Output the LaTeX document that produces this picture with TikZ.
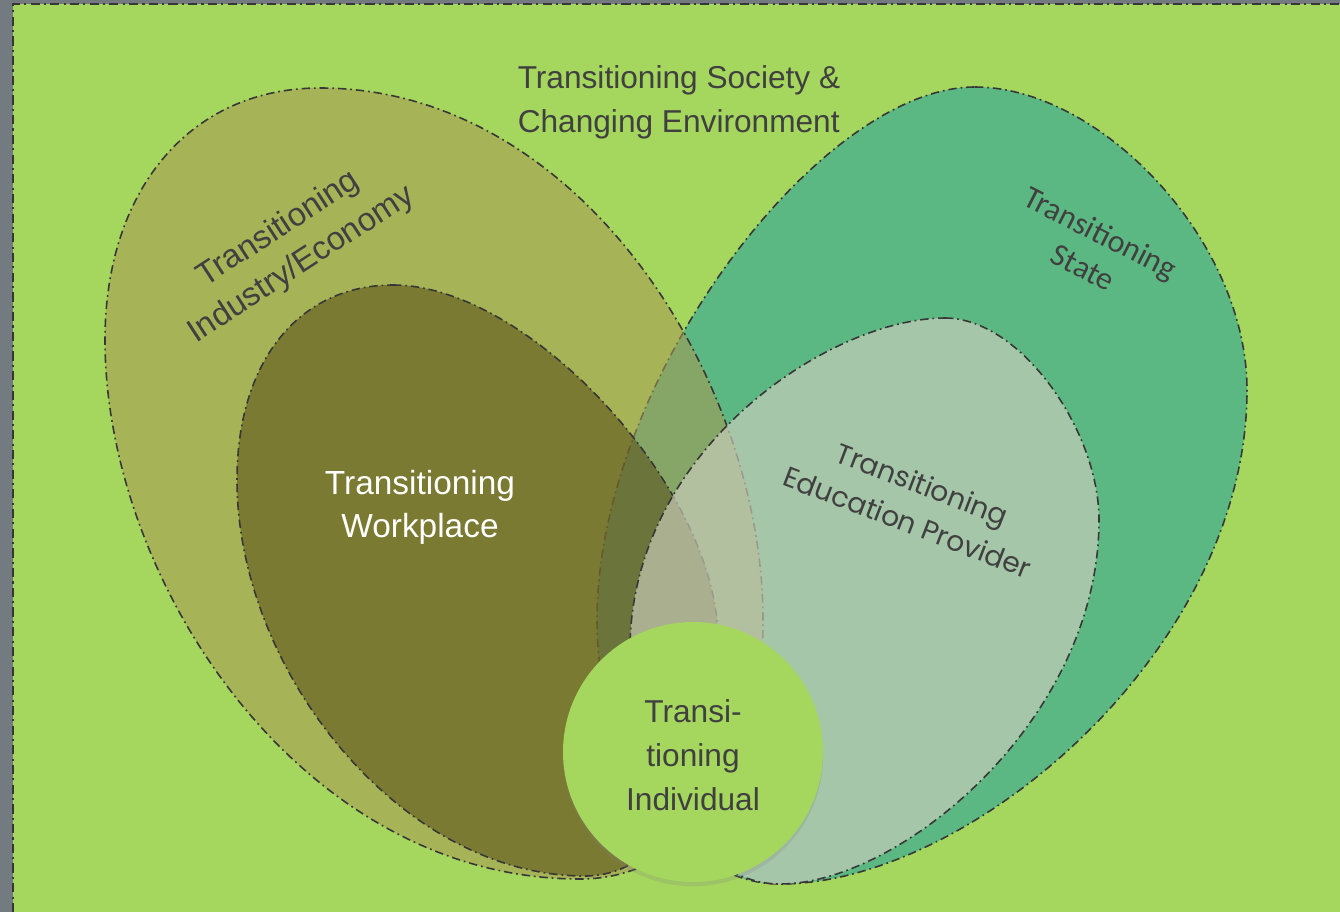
\documentclass[tikz,border=0pt]{standalone}
\usepackage{fontspec}
\setmainfont{Liberation Sans}
\newfontfamily\calibrifont{Carlito}
\newfontfamily\gothicfont{Poppins}
\usetikzlibrary{shadows}

\definecolor{bggreen}{RGB}{165,214,94}
\definecolor{framegray}{RGB}{115,122,128}
\definecolor{linegray}{RGB}{55,55,55}
\definecolor{textgray}{RGB}{64,64,64}
\definecolor{industry}{RGB}{170,152,83}
\definecolor{state}{RGB}{92,184,130}
\definecolor{workplace}{RGB}{86,76,21}
\definecolor{provider}{RGB}{202,205,187}

\tikzset{
  zone/.style={draw=linegray, line width=0.45pt,
    dash pattern=on 2.4pt off 1.1pt on 0.5pt off 1.1pt},
  zonetext/.style={text=textgray, align=center,
    font=\fontsize{9}{12.5}\selectfont},
}

\begin{document}
\begin{tikzpicture}[x=0.01cm, y=-0.01cm]
    \useasboundingbox (0,0) rectangle (1340,912);
    \fill[framegray] (0,0) rectangle (1340,912);
    \fill[bggreen] (13,4) rectangle (1340,912);
    \draw[linegray, line width=0.6pt, dash pattern=on 2.6pt off 1.2pt on 0.6pt off 1.2pt]
      (13,912) -- (13,4) -- (1340,4);

    % state (drawn first, the others lie over it)
    \filldraw[zone, fill=state] (975,87)
      .. controls (1100,87) and (1247,240) .. (1247,390)
      .. controls (1247,650) and (970,884) .. (780,884)
      .. controls (680,884) and (597,760) .. (597,620)
      .. controls (597,380) and (820,87) .. cycle;

    % industry / economy
    \filldraw[zone, fill=industry, fill opacity=0.55] (320,88)
      .. controls (580,88) and (763,380) .. (763,620)
      .. controls (763,790) and (680,879) .. (580,879)
      .. controls (300,879) and (105,580) .. (105,340)
      .. controls (105,190) and (190,88) .. cycle;

    % workplace
    \filldraw[zone, fill=workplace, fill opacity=0.55] (393,285)
      .. controls (530,285) and (718,490) .. (718,640)
      .. controls (718,790) and (660,876) .. (585,876)
      .. controls (400,876) and (237,670) .. (237,480)
      .. controls (237,360) and (300,285) .. cycle;

    % education provider
    \filldraw[zone, fill=provider, fill opacity=0.67] (945,318)
      .. controls (1020,318) and (1099,430) .. (1099,520)
      .. controls (1099,720) and (900,884) .. (780,884)
      .. controls (690,884) and (630,760) .. (630,650)
      .. controls (630,450) and (830,318) .. cycle;

    % individual
    \fill[bggreen, drop shadow={shadow xshift=0pt, shadow yshift=-1.2pt, opacity=0.22}]
      (693,752) circle (130);

    \node[zonetext, align=left] (society) at (679,102)
      {Transitioning Society \&\\Changing Environment};
    \node[zonetext, rotate=33, font=\fontsize{9.3}{12}\selectfont] (industrytext) at (290,247)
      {Transitioning\\Industry/Economy};
    \node[zonetext, text=white, font=\fontsize{9.5}{12.3}\selectfont] (workplacetext) at (420,507)
      {Transitioning\\Workplace};
    \node[zonetext, rotate=-27, font=\calibrifont\fontsize{9.1}{11}\selectfont] (statetext) at (1092,250)
      {Transitioning\\State};
    \node[zonetext, rotate=-21, font=\gothicfont\fontsize{8}{11.6}\selectfont] (providertext) at (915,503)
      {Transitioning\\Education Provider};
    \node[zonetext] (individualtext) at (693,755)
      {Transi-\\tioning\\Individual};
\end{tikzpicture}
\end{document}
